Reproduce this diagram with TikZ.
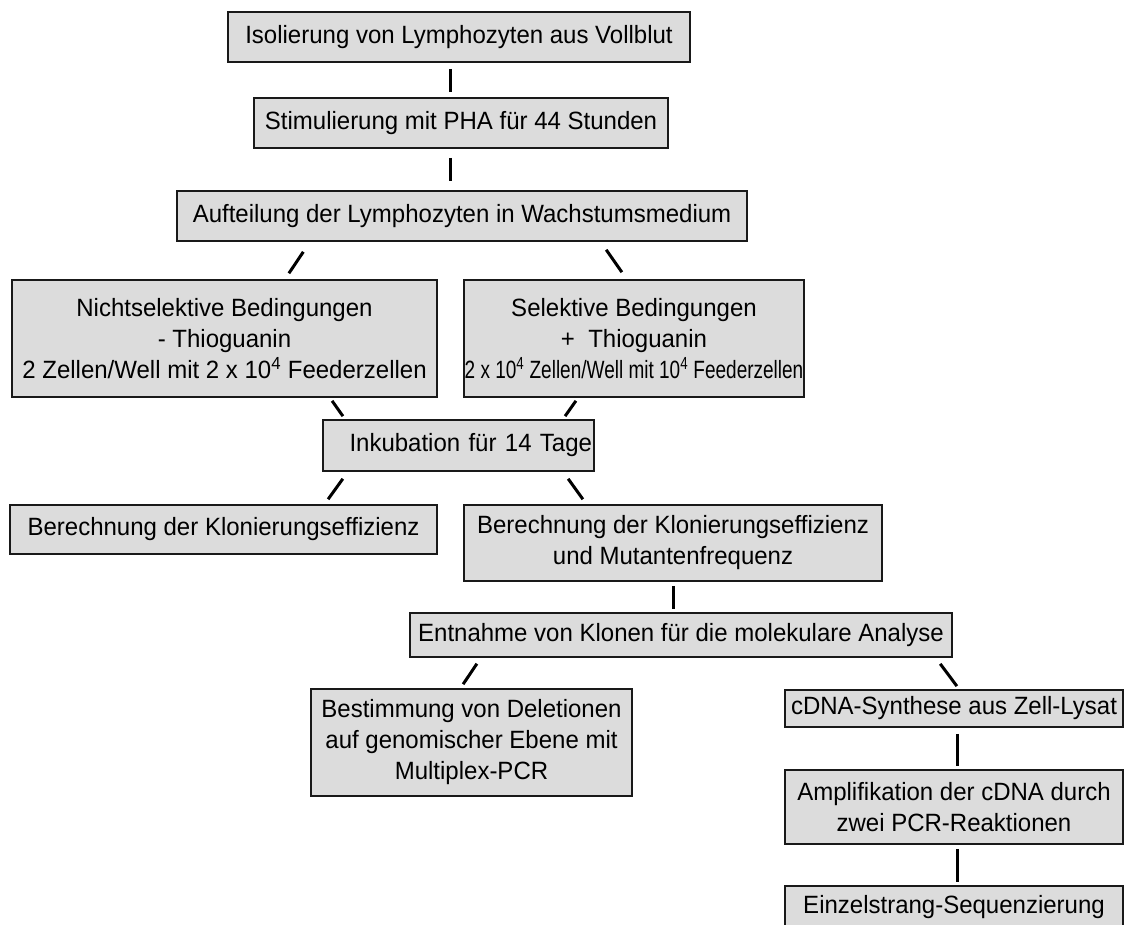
\documentclass[tikz,border=0pt]{standalone}
\usepackage{fontspec}
\setmainfont[FakeStretch=0.96]{Liberation Sans}
\newfontfamily\narrowfont[FakeStretch=0.76]{Liberation Sans}
\usepackage{tikz}
\definecolor{boxgray}{HTML}{DCDCDC}
\tikzset{x=1pt, y=-1pt,
         stage/.style={draw=black!90, fill=boxgray, line width=1.8pt, inner sep=1pt,
                       align=center, text=black, font=\fontsize{25}{31}\selectfont},
         link/.style={line width=3pt}}

\begin{document}
\begin{tikzpicture}

	\useasboundingbox (0,0) rectangle (1125,925);

	% stages
	\node[stage, minimum width=462, minimum height=50] (iso) at (459,37) {Isolierung von Lymphozyten aus Vollblut};
	\node[stage, minimum width=414, minimum height=50] (stim) at (461,123) {Stimulierung mit PHA für 44 Stunden};
	\node[stage, minimum width=570, minimum height=50] (auf) at (462,216) {Aufteilung der Lymphozyten in Wachstumsmedium};
	\node[stage, minimum width=425, minimum height=117] (nsel) at (224.5,338.5)
		{Nichtselektive Bedingungen\\- Thioguanin\\2 Zellen/Well mit 2 x 10\textsuperscript{4} Feederzellen};
	\node[stage, minimum width=338, minimum height=117] (sel) at (634,338.5)
		{Selektive Bedingungen\\+\ \ Thioguanin\\{\narrowfont 2 x 10\textsuperscript{4} Zellen/Well mit 10\textsuperscript{4} Feederzellen}};
	\node[stage, minimum width=271, minimum height=51, text width=267, align=right] (ink) at (458.5,445.5) {Inkubation für 14 Tage};
	\node[stage, minimum width=427, minimum height=49] (klon) at (223.5,529.5) {Berechnung der Klonierungseffizienz};
	\node[stage, minimum width=418, minimum height=76] (mut) at (673,543)
		{Berechnung der Klonierungseffizienz\\und Mutantenfrequenz};
	\node[stage, minimum width=542, minimum height=44] (ent) at (681,635) {Entnahme von Klonen für die molekulare Analyse};
	\node[stage, minimum width=321, minimum height=107] (best) at (471.5,742.5)
		{Bestimmung von Deletionen\\auf genomischer Ebene mit\\Multiplex-PCR};
	\node[stage, minimum width=338, minimum height=37] (cdna) at (954,708.5) {cDNA-Synthese aus Zell-Lysat};
	\node[stage, minimum width=338, minimum height=74] (amp) at (954,807)
		{Amplifikation der cDNA durch\\zwei PCR-Reaktionen};
	\node[stage, minimum width=338, minimum height=42] (seq) at (954,907) {Einzelstrang-Sequenzierung};

	% links
	\draw[link, shorten <=6, shorten >=5] ([xshift=-9]iso.south) -- ([xshift=-11]stim.north);
	\draw[link, shorten <=9, shorten >=9] ([xshift=-11]stim.south) -- ([xshift=-12]auf.north);
	\draw[link, shorten <=12, shorten >=7] ([xshift=-152]auf.south) -- ([xshift=60.5]nsel.north);
	\draw[link, shorten <=9.6, shorten >=8.4] ([xshift=138.7]auf.south) -- ([xshift=-7.3]sel.north);
	\draw[link, shorten <=3.6, shorten >=3.6] ([xshift=105.5]nsel.south) -- ([xshift=-113.5]ink.north);
	\draw[link, shorten <=3.6, shorten >=3.6] ([xshift=-56]sel.south) -- ([xshift=104.5]ink.north);
	\draw[link, shorten <=8.5, shorten >=6] ([xshift=-110.7]ink.south) -- ([xshift=101.1]klon.north);
	\draw[link, shorten <=8.5, shorten >=6] ([xshift=104.7]ink.south) -- ([xshift=-86.6]mut.north);
	\draw[link, shorten <=4, shorten >=3] (mut.south) -- ([xshift=-8]ent.north);
	\draw[link, shorten <=7, shorten >=4.7] ([xshift=-200.2]ent.south) -- ([xshift=-11]best.north);
	\draw[link, shorten <=7.4, shorten >=3.7] ([xshift=254.8]ent.south) -- ([xshift=5.1]cdna.north);
	\draw[link, shorten <=6, shorten >=3] ([xshift=3]cdna.south) -- ([xshift=3]amp.north);
	\draw[link, shorten <=4, shorten >=3] ([xshift=3]amp.south) -- ([xshift=3]seq.north);

\end{tikzpicture}
\end{document}
